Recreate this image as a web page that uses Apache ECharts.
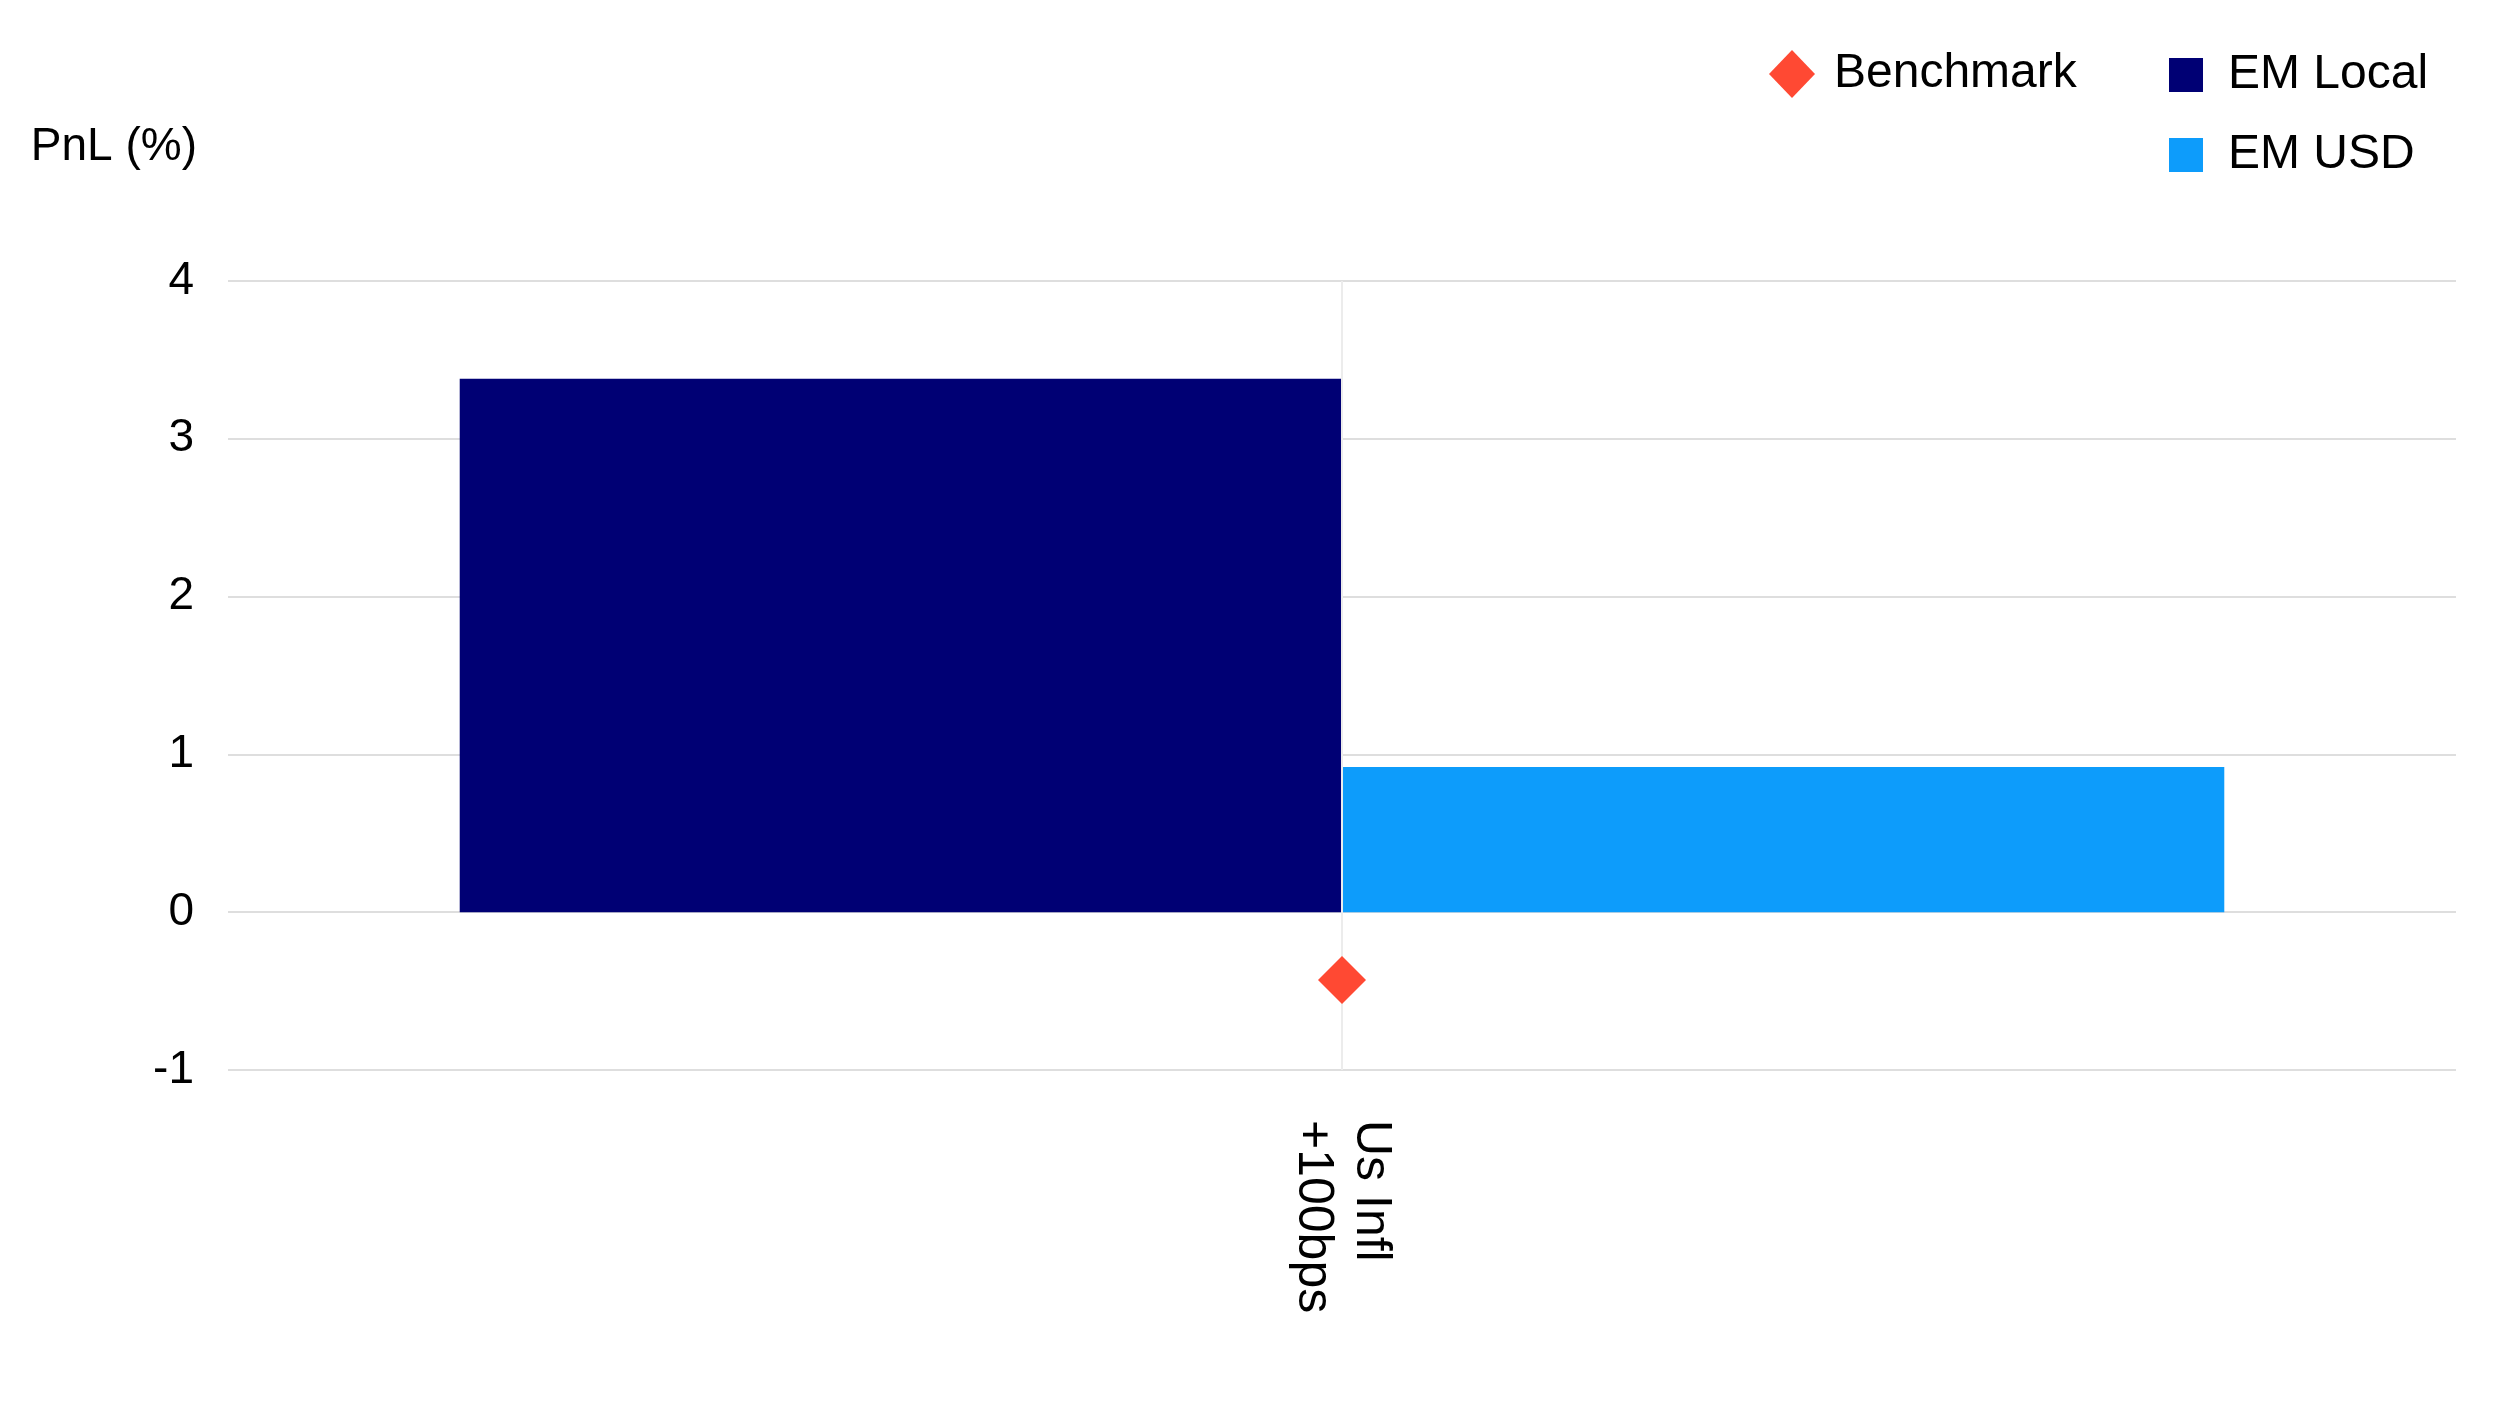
<!DOCTYPE html>
<html>
    <head>
        <meta charset="utf-8">
        <script src="https://cdn.jsdelivr.net/npm/echarts@6/dist/echarts.min.js"></script>
    </head>
    <body>
        <style>
            html, body, #main {
                margin: 0;
                width: 100%;
                height: 100vh;
                background: #fff;
            }
        </style>

        <div id="main"></div>

        <script>
            // data
            var categories = ['Us Infl +100bps'];
            var emLocal = [3.38];
            var emUsd = [0.92];
            var benchmark = [-0.43];
            var yTicks = {min: -1, max: 4, interval: 1};

            var font = 'Liberation Sans, Arial, sans-serif';
            var chart = echarts.init(document.querySelector('#main'));
            window.onresize = chart.resize;

            var option = {
                textStyle: {fontFamily: font},
                legend: [{
                    left: 1764,
                    top: 45,
                    itemWidth: 46,
                    itemHeight: 48,
                    textStyle: {fontSize: 48, color: '#000', padding: [0, 0, 0, 14]},
                    data: [{name: 'Benchmark', icon: 'diamond'}]
                }, {
                    left: 2164,
                    top: 46,
                    orient: 'vertical',
                    itemWidth: 34,
                    itemHeight: 34,
                    itemGap: 32,
                    textStyle: {fontSize: 48, color: '#000', padding: [0, 0, 0, 20]},
                    data: [{name: 'EM Local', icon: 'rect'}, {name: 'EM USD', icon: 'rect'}]
                }],
                grid: {left: 228, right: 40, top: 281, bottom: 1404 - 1070},
                xAxis: {
                    type: 'category',
                    data: categories,
                    axisLine: {show: false},
                    axisTick: {show: false},
                    axisLabel: {
                        rotate: -90,
                        margin: 50,
                        fontSize: 50,
                        lineHeight: 58,
                        color: '#000',
                        formatter: function (v) { return v.replace(' +', '\n+'); }
                    }
                },
                yAxis: {
                    type: 'value',
                    min: yTicks.min,
                    max: yTicks.max,
                    interval: yTicks.interval,
                    name: 'PnL (%)',
                    nameLocation: 'end',
                    nameGap: 134,
                    nameTextStyle: {fontSize: 46, color: '#000', align: 'right', verticalAlign: 'middle', padding: [0, 31, 0, 0]},
                    axisLine: {show: false},
                    axisTick: {show: false},
                    axisLabel: {fontSize: 46, color: '#000', margin: 34},
                    splitLine: {lineStyle: {color: '#dedede', width: 2}}
                },
                series: [{
                    name: 'EM Local',
                    type: 'bar',
                    data: emLocal,
                    barGap: 0,
                    barCategoryGap: '20.8%',
                    itemStyle: {color: '#000074'}
                }, {
                    name: 'EM USD',
                    type: 'bar',
                    data: emUsd,
                    itemStyle: {color: '#0d9cfb'}
                }, {
                    name: 'Benchmark',
                    type: 'scatter',
                    symbol: 'diamond',
                    symbolSize: [48, 48],
                    data: benchmark,
                    itemStyle: {color: '#ff4933', opacity: 1},
                    z: 5,
                    markLine: {
                        silent: true,
                        symbol: 'none',
                        label: {show: false},
                        lineStyle: {color: '#ececec', width: 2, type: 'solid'},
                        data: [{xAxis: 0}]
                    }
                }]
            };

            chart.setOption(option);
        </script>
    </body>
</html>
